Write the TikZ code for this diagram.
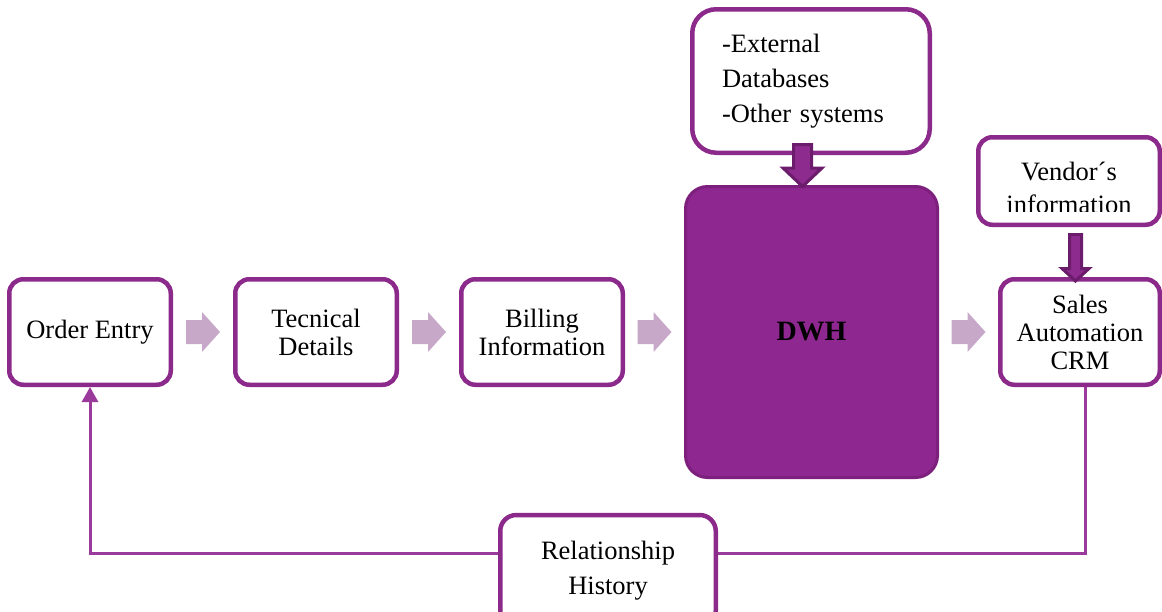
\documentclass[tikz,border=0pt]{standalone}
\usepackage{fontspec}
\setmainfont{Liberation Serif}
\usetikzlibrary{calc,arrows.meta}

\definecolor{boxline}{HTML}{8C2A8C}
\definecolor{dwhfill}{HTML}{8F2790}
\definecolor{dwhline}{HTML}{7D1F7D}
\definecolor{flowarrow}{HTML}{C8A8C8}
\definecolor{feedarrow}{HTML}{8E2B8E}
\definecolor{feedrim}{HTML}{6B1C6B}
\definecolor{loopline}{HTML}{9A3A9A}

\tikzset{
  stepbox/.style={draw=boxline, line width=4.5pt, fill=white, rounded corners=14pt,
    minimum width=161.5pt, minimum height=105.5pt, inner sep=2pt, align=center,
    font=\fontsize{26.5}{28}\selectfont},
  hubbox/.style={draw=dwhline, line width=3pt, fill=dwhfill, rounded corners=22pt,
    minimum width=252pt, minimum height=291pt, font=\fontsize{28}{30}\selectfont\bfseries},
  sourcebox/.style={draw=boxline, line width=4.5pt, fill=white, rounded corners=24pt,
    inner sep=2pt},
  flowarrow/.style={fill=flowarrow},
  feedarrow/.style={fill=feedarrow, draw=feedrim, line width=3pt, line join=miter},
  loop/.style={draw=loopline, line width=3pt},
  % light block arrow pointing right, anchored at its middle
  pics/rightarrow/.style={code={
    \path[flowarrow] (-17,-12) -- (-1,-12) -- (-1,-20) -- (17,0) -- (-1,20) -- (-1,12) -- (-17,12) -- cycle;
  }},
}

\begin{document}
\begin{tikzpicture}[x=1pt,y=-1pt]
\useasboundingbox (0,0) rectangle (1162,611);

% main chain of steps
\node[stepbox] (oe)  at (90,332)  {Order Entry};
\node[stepbox] (td)  at (316,332) {Tecnical\\Details};
\node[stepbox] (bi)  at (542,332) {Billing\\Information};
\node[hubbox]  (dwh) at (811.5,332) {DWH};
\node[stepbox, minimum width=159.5pt] (crm) at (1080,332) {Sales\\Automation\\CRM};

% feeding sources
\node[sourcebox, minimum width=237.5pt, minimum height=143.5pt, text width=178pt, align=left,
      font=\fontsize{26.5}{35}\selectfont] (ext) at (811,81)
      {-External\\Databases\\-Other systems};
\node[sourcebox, rounded corners=14pt, minimum width=181.5pt, minimum height=87.5pt] (ven) at (1069,181) {};
\begin{scope}
  \clip ($(ven.north west)+(4,4)$) rectangle ($(ven.east)+(-4,30)$);
  \node[align=center, font=\fontsize{26.5}{33}\selectfont] (ventext) at ($(ven.center)+(0,7)$) {Vendor´s\\information};
\end{scope}

% flow arrows between the steps
\pic at ($(oe.east)!0.5!(td.west)$) {rightarrow};
\pic at ($(td.east)!0.5!(bi.west)$) {rightarrow};
\pic at ($(bi.east)!0.5!(dwh.west)$) {rightarrow};
\pic at ($(dwh.east)!0.5!(crm.west)$) {rightarrow};

% sources feeding down
\coordinate (extfeed) at ($(ext.south)+(-8.5,0)$);
\path[feedarrow] ($(extfeed)+(-9,-10.5)$) -- ($(extfeed)+(9,-10.5)$) -- ($(extfeed)+(9,13)$)
  -- ($(extfeed)+(19.5,13)$) -- ($(dwh.north)+(-9,1.5)$) -- ($(extfeed)+(-19.5,13)$)
  -- ($(extfeed)+(-9,13)$) -- cycle;
\coordinate (venfeed) at ($(ven.south)+(6.5,0)$);
\path[feedarrow] ($(venfeed)+(-6,7.5)$) -- ($(venfeed)+(6,7.5)$) -- ($(venfeed)+(6,41.5)$)
  -- ($(venfeed)+(13.5,41.5)$) -- ($(crm.north)+(-4.5,4)$) -- ($(venfeed)+(-13.5,41.5)$)
  -- ($(venfeed)+(-6,41.5)$) -- cycle;

% feedback loop back to order entry
\coordinate (loopR) at ($(crm.south)+(5,0)$);
\coordinate (loopL) at ($(oe.south)+(0,166)$);
\draw[loop, -{Triangle[width=16pt,length=15pt]}] (loopR) |- (loopL) -- (oe.south);

\node[stepbox, rounded corners=16pt, minimum width=215.5pt, minimum height=112pt,
      font=\fontsize{26.5}{35}\selectfont] (rh) at (608,571) {Relationship\\History};
\end{tikzpicture}
\end{document}
